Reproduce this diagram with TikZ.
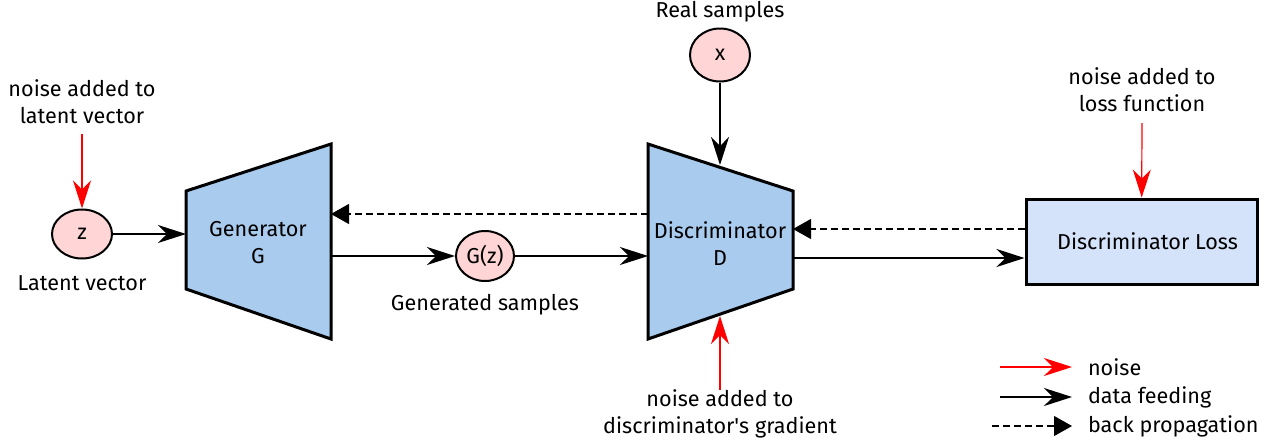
\documentclass[tikz,border=0pt]{standalone}
\usepackage{fontspec}
\setmainfont{Fira Sans}
\usetikzlibrary{positioning, arrows.meta, calc, shapes.geometric}
\definecolor{netblue}{HTML}{A9CBEE}
\definecolor{samplepink}{HTML}{FFD5D5}
\definecolor{lossblue}{HTML}{D4E2FA}
\tikzset{
    sample/.style={
        ellipse,
        draw=black,
        fill=samplepink,
        line width=1pt,
        inner sep=0pt
    },
    net/.style={
        draw=black,
        fill=netblue,
        line width=1.5pt,
        line join=miter
    },
    lossbox/.style={
        draw=black,
        fill=lossblue,
        line width=1.5pt,
        minimum width=115.5pt,
        minimum height=42.5pt
    },
    feed/.style={
        -{Stealth[length=14pt, width=9pt, inset=4.5pt]},
        line width=0.6pt
    },
    noise/.style={
        feed,
        red
    },
    backprop/.style={
        -{Triangle[length=9pt, width=10pt]},
        line width=0.6pt,
        dash pattern=on 3.5pt off 2pt
    }
}

\begin{document}
\begin{tikzpicture}[
        x=0.5pt, y=-0.5pt,
        every node/.style={font=\fontsize{10.8}{13.5}\selectfont, align=center}
      ]
      \useasboundingbox (0,0) rectangle (1270,446);

      % generator and discriminator
      \draw[net] (186,191) -- (331,144) -- (331,339) -- (186,289) -- cycle;
      \draw[net] (648,144) -- (793,191) -- (793,289) -- (648,339) -- cycle;
      \node (G) at (258,243) {Generator\\G};
      \node (D) at (720,244) {Discriminator\\D};

      \coordinate (Gin)  at (186,234);
      \coordinate (Gout) at (331,256);
      \coordinate (Gback) at (331,214);
      \coordinate (Din)  at (648,256);
      \coordinate (Dback) at (648,214);
      \coordinate (Dtop) at (720,165);
      \coordinate (Dbot) at (720,316);
      \coordinate (Dr1)  at (793,229);
      \coordinate (Dr2)  at (793,258);

      % samples
      \node[sample, minimum width=30pt, minimum height=24.5pt] (z)  at (82,234)  {z};
      \node[sample, minimum width=29pt, minimum height=25pt]   (gz) at (485,256) {G(z)};
      \node[sample, minimum width=30pt, minimum height=26.5pt] (x)  at (720,55)  {x};
      \node[lossbox] (loss) at (1141.5,241.5) {\hspace{6pt}Discriminator Loss};

      % labels
      \node (znote)   at (82,102)   {noise added to\\latent vector};
      \node (zlab)    at (82,283)   {Latent vector};
      \node (gzlab)   at (485,305)  {Generated samples};
      \node (xlab)    at (720,12)   {Real samples};
      \node (dnote)   at (720,414)  {noise added to\\discriminator\textquotesingle s gradient};
      \node (lossnote) at (1142,90) {noise added to\\loss function};

      \coordinate (zn)    at (82,134);
      \coordinate (dn)    at (720,390);
      \coordinate (lossn) at (1142,123);

      % data feeding
      \draw[feed] (z) -- (Gin);
      \draw[feed] (Gout) -- (gz);
      \draw[feed] (gz) -- (Din);
      \draw[feed] (x) -- (Dtop);
      \draw[feed] (Dr2) -- (loss.west |- Dr2);

      % back propagation
      \draw[backprop] (loss.west |- Dr1) -- (Dr1);
      \draw[backprop] (Dback) -- (Gback);

      % noise
      \draw[noise] (zn) -- (z);
      \draw[noise] (dn) -- (Dbot);
      \draw[noise] (lossn) -- (loss);

      % legend
      \coordinate (l1a) at (1000,367);
      \coordinate (l1b) at (1072,367);
      \coordinate (l2a) at (1000,397);
      \coordinate (l2b) at (1072,397);
      \coordinate (l3a) at (992,426);
      \coordinate (l3b) at (1072,426);
      \draw[noise] (l1a) -- (l1b);
      \draw[feed] (l2a) -- (l2b);
      \draw[backprop] (l3a) -- (l3b);
      \node[anchor=west] (lnoise) at (1081,367) {noise};
      \node[anchor=west] (lfeed)  at (1081,397) {data feeding};
      \node[anchor=west] (lback)  at (1081,426) {back propagation};
\end{tikzpicture}
\end{document}
